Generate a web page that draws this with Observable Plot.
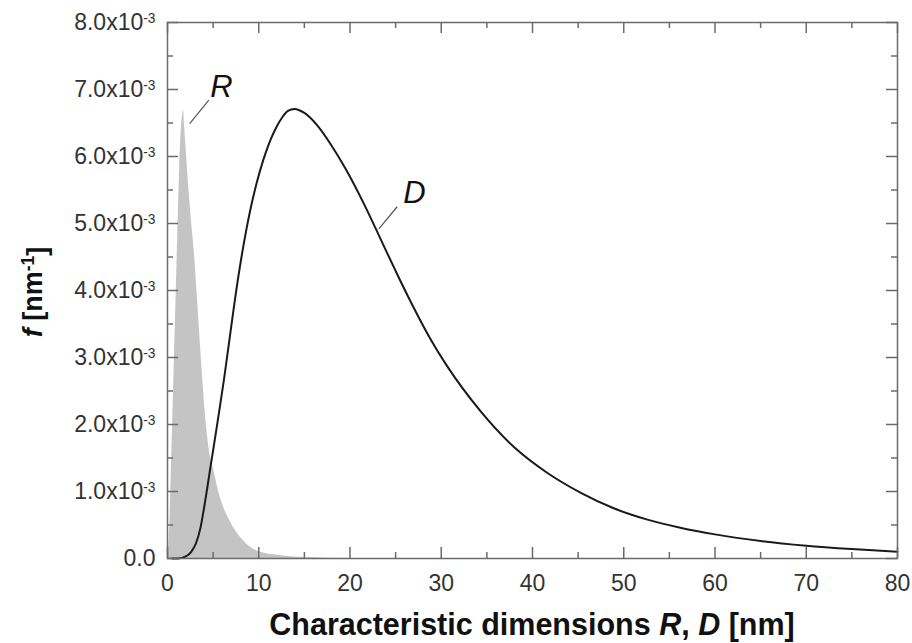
<!DOCTYPE html>
<html><head><meta charset="utf-8">
<script src="https://cdn.jsdelivr.net/npm/d3@7"></script>
<script src="https://cdn.jsdelivr.net/npm/@observablehq/plot@0.6"></script>
<style>body{margin:0;background:#fff}</style>
</head><body><div id="chart"></div>
<script>
// R distribution (x in nm, f in 1e-3 nm^-1)
const rX = [0, 0.2, 0.4, 0.6, 0.8, 1.0, 1.2, 1.4, 1.6, 1.75, 1.9, 2.1, 2.35, 2.75, 2.95, 3.3, 3.7, 4.25, 4.6, 5.1, 5.7, 6.2, 7.0, 7.7, 9.0, 10.0, 12.0, 15.0, 20.0];
const rF = [0, 0.3, 1.2, 2.2, 3.2, 4.2, 5.2, 6.1, 6.55, 6.69, 6.4, 6.0, 5.5, 4.85, 4.55, 3.85, 3.0, 2.0, 1.6, 1.3, 0.95, 0.75, 0.52, 0.37, 0.18, 0.1, 0.05, 0.015, 0];
// D distribution
const dX = [0.5, 1.2, 2.0, 2.6, 3.1, 3.6, 4.0, 4.75, 5.5, 6.2, 6.9, 7.7, 8.4, 9.1, 9.8, 10.5, 11.2, 11.9, 12.6, 13.2, 13.9, 15.0, 16.5, 17.9, 19.5, 21.5, 22.8, 24.1, 25.5, 27.0, 28.8, 30.7, 34.3, 38.0, 41.6, 45.3, 48.9, 52.6, 56.2, 60.0, 65.0, 70.0, 75.0, 80.0];
const dF = [0, 0, 0.03, 0.1, 0.22, 0.45, 0.75, 1.4, 2.05, 2.68, 3.38, 4.15, 4.73, 5.22, 5.62, 5.95, 6.22, 6.43, 6.59, 6.68, 6.71, 6.65, 6.45, 6.18, 5.82, 5.3, 4.93, 4.55, 4.15, 3.74, 3.28, 2.86, 2.2, 1.66, 1.28, 0.98, 0.75, 0.58, 0.46, 0.36, 0.26, 0.19, 0.14, 0.1];

const xTicks = [0, 10, 20, 30, 40, 50, 60, 70, 80];
const xMinor = [5, 15, 25, 35, 45, 55, 65, 75];
const yTicks = [0, 1, 2, 3, 4, 5, 6, 7, 8];
const yMinor = [0.5, 1.5, 2.5, 3.5, 4.5, 5.5, 6.5, 7.5];
const yTickBase = ["0.0", "1.0x10", "2.0x10", "3.0x10", "4.0x10", "5.0x10", "6.0x10", "7.0x10", "8.0x10"];
const yTickExp = ["", "-3", "-3", "-3", "-3", "-3", "-3", "-3", "-3"];

const curveNames = ["R", "D"];
const nameX = [5.92, 27.07];
const nameY = [7.04, 5.46];
const leadX1 = [2.43, 23.16];
const leadY1 = [6.49, 4.92];
const leadX2 = [4.53, 25.17];
const leadY2 = [6.84, 5.25];

const W = 912, H = 643, mL = 167, mR = 15, mT = 22, mB = 85;
const fw = W - mL - mR, fh = H - mT - mB;
const rData = rX.map((x, i) => ({x, f: rF[i]}));
const dData = dX.map((x, i) => ({x, f: dF[i]}));
const labels = curveNames.map((name, i) => ({name, x: nameX[i], y: nameY[i], x1: leadX1[i], y1: leadY1[i], x2: leadX2[i], y2: leadY2[i]}));
const tickColor = "#6b6b6b";
const fontFam = "'Liberation Sans', Arial, sans-serif";

const plot = Plot.plot({
  width: W, height: H,
  marginLeft: mL, marginRight: mR, marginTop: mT, marginBottom: mB,
  style: {fontFamily: fontFam, fontSize: "23px", color: "#333", background: "#fff"},
  x: {domain: [0, 80]},
  y: {domain: [0, 8]},
  marks: [
    Plot.areaY(rData, {x: "x", y: "f", fill: "#c4c4c4", curve: "monotone-x"}),
    Plot.line(dData, {x: "x", y: "f", stroke: "#1a1a1a", strokeWidth: 2, curve: "monotone-x"}),
    Plot.tickX(xTicks, {x: d => d, insetTop: fh - 11, stroke: tickColor, strokeWidth: 1.5}),
    Plot.tickX(xMinor, {x: d => d, insetTop: fh - 6, stroke: tickColor, strokeWidth: 1.5}),
    Plot.tickX(xTicks, {x: d => d, insetBottom: fh - 11, stroke: tickColor, strokeWidth: 1.5}),
    Plot.tickX(xMinor, {x: d => d, insetBottom: fh - 6, stroke: tickColor, strokeWidth: 1.5}),
    Plot.tickY(yTicks, {y: d => d, insetRight: fw - 11, stroke: tickColor, strokeWidth: 1.5}),
    Plot.tickY(yMinor, {y: d => d, insetRight: fw - 6, stroke: tickColor, strokeWidth: 1.5}),
    Plot.tickY(yTicks, {y: d => d, insetLeft: fw - 11, stroke: tickColor, strokeWidth: 1.5}),
    Plot.tickY(yMinor, {y: d => d, insetLeft: fw - 6, stroke: tickColor, strokeWidth: 1.5}),
    Plot.frame({stroke: tickColor, strokeWidth: 1.5}),
    Plot.axisX({ticks: xTicks, tickSize: 0, tickPadding: 16, fontSize: 23, tickFormat: d => String(d), label: null}),
    Plot.axisY({ticks: yTicks, tickSize: 0, tickPadding: 12, fontSize: 23, tickFormat: d => yTickBase[yTicks.indexOf(d)], label: null}),
    Plot.link(labels, {x1: "x1", y1: "y1", x2: "x2", y2: "y2", stroke: "#555", strokeWidth: 1.2}),
    Plot.text(labels, {x: "x", y: "y", text: "name", fontSize: 31, fontStyle: "italic", fill: "#111"})
  ]
});

document.getElementById("chart").appendChild(plot);
const svg = d3.select(plot);

// superscripts on y tick labels
svg.selectAll('g[aria-label="y-axis tick label"] text').each(function() {
  const t = d3.select(this);
  const base = t.text();
  const idx = yTickBase.indexOf(base);
  if (idx < 0 || !yTickExp[idx]) return;
  t.text(base);
  t.append("tspan").attr("dy", "-0.5em").attr("font-size", "0.6em").text(yTickExp[idx]);
});

// x axis title
const xt = svg.append("text")
  .attr("x", 532).attr("y", 635)
  .attr("text-anchor", "middle").attr("font-weight", "bold").attr("font-size", 30.5)
  .attr("font-family", fontFam).attr("fill", "#111");
xt.append("tspan").text("Characteristic dimensions ");
xt.append("tspan").attr("font-style", "italic").text("R");
xt.append("tspan").text(", ");
xt.append("tspan").attr("font-style", "italic").text("D");
xt.append("tspan").text(" [nm]");

// y axis title
const yt = svg.append("text")
  .attr("transform", "translate(42," + (mT + fh * 0.5 + 2) + ") rotate(-90)")
  .attr("text-anchor", "middle").attr("font-weight", "bold").attr("font-size", 27)
  .attr("font-family", fontFam).attr("fill", "#111");
yt.append("tspan").attr("font-style", "italic").text("f");
yt.append("tspan").text(" [nm");
yt.append("tspan").attr("dy", "-0.45em").attr("font-size", "0.65em").text("-1");
yt.append("tspan").attr("dy", "0.45em").text("]");
</script>
</body></html>
